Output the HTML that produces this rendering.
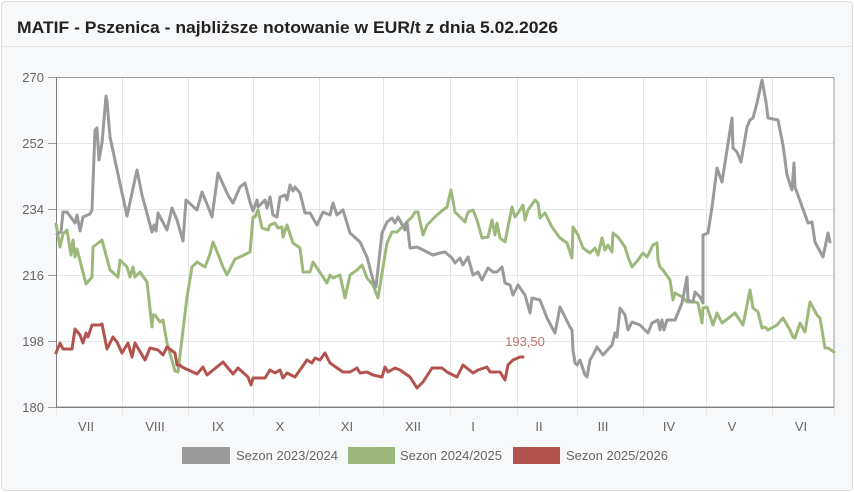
<!DOCTYPE html>
<html>
<head>
<meta charset="utf-8">
<style>
  html,body{margin:0;padding:0;background:#fff;}
  body{width:854px;height:492px;overflow:hidden;font-family:"Liberation Sans",sans-serif;}
  svg{display:block;}
</style>
</head>
<body>
<svg width="854" height="492" viewBox="0 0 854 492" xmlns="http://www.w3.org/2000/svg" font-family="Liberation Sans, sans-serif">
  <!-- card -->
  <rect x="1.5" y="1.5" width="851" height="489" rx="4" ry="4" fill="#f7f8fa" stroke="#dcdcdc" stroke-width="1"/>
  <path d="M2,46.5 H852" stroke="#e2e2e2" stroke-width="1"/>
  <text x="17" y="33" font-size="17" font-weight="bold" fill="#222" textLength="541" lengthAdjust="spacingAndGlyphs">MATIF - Pszenica - najbliższe notowanie w EUR/t z dnia 5.02.2026</text>

  <!-- plot area -->
  <rect x="56" y="77" width="778" height="330" fill="#ffffff"/>
  <g stroke="#e6e6e6" stroke-width="1">
    <path d="M56,143.5 H834 M56,209.5 H834 M56,275.5 H834 M56,341.5 H834"/>
    <path d="M56.5,77 V415 M122.5,77 V415 M188.5,77 V415 M253.5,77 V415 M319.5,77 V415 M383.5,77 V415 M450.5,77 V415 M517.5,77 V415 M577.5,77 V415 M643.5,77 V415 M706.5,77 V415 M772.5,77 V415 M834.5,407 V415"/>
  </g>
  <g stroke="#9a9a9a" stroke-width="1">
    <path d="M48,77.5 H56 M48,143.5 H56 M48,209.5 H56 M48,275.5 H56 M48,341.5 H56 M48,407.5 H56"/>
  </g>
  <rect x="56.5" y="77.5" width="777.5" height="329.5" fill="none" stroke="#9a9a9a" stroke-width="1"/>
  <path d="M56.5,77 V407.5 H834" fill="none" stroke="#7d7d7d" stroke-width="1"/>

  <!-- y labels -->
  <g font-size="13" fill="#666" text-anchor="end">
    <text x="44" y="82">270</text>
    <text x="44" y="148">252</text>
    <text x="44" y="214">234</text>
    <text x="44" y="280">216</text>
    <text x="44" y="346">198</text>
    <text x="44" y="412">180</text>
  </g>
  <!-- x labels -->
  <g font-size="13" fill="#666" text-anchor="middle">
    <text x="86" y="431">VII</text>
    <text x="155" y="431">VIII</text>
    <text x="218" y="431">IX</text>
    <text x="280" y="431">X</text>
    <text x="347" y="431">XI</text>
    <text x="413" y="431">XII</text>
    <text x="473" y="431">I</text>
    <text x="539" y="431">II</text>
    <text x="603" y="431">III</text>
    <text x="669" y="431">IV</text>
    <text x="732" y="431">V</text>
    <text x="801" y="431">VI</text>
  </g>

  <g fill="none" stroke-width="3" stroke-linejoin="round" stroke-linecap="round">
    <!-- green 2024/2025 -->
    <polyline stroke="#9cb97b" points="56,224 60,247 63,234 67,230 71,255 73,240 75,257 77,249 86,284 92,277 93,247 102,240 110,270 118,277 120,260 127,267 130,277 133,267 135,277 140,272 147,282 152,327 153,315 155,315 160,322 163,320 167,343 175,371 178,372 187,297 192,267 197,262 205,267 210,254 213,242 218,254 223,267 227,275 235,259 240,257 250,252 253,217 255,217 258,210 262,228 268,230 270,225 275,223 278,228 282,227 283,237 287,225 293,243 300,248 303,272 310,272 313,262 327,283 330,275 333,278 340,275 345,298 350,275 357,270 362,265 367,278 373,285 378,298 383,267 387,243 392,232 397,232 402,227 407,222 412,217 415,212 418,212 423,235 427,225 430,222 437,215 443,210 447,207 451,190 455,212 465,222 468,212 473,210 477,220 482,238 488,237 492,220 495,235 497,223 500,238 505,242 512,207 515,217 520,210 523,205 525,220 528,210 535,200 538,203 540,218 545,213 552,227 560,238 567,243 572,258 573,227 578,235 583,248 590,253 595,248 598,255 602,238 605,250 608,245 612,252 613,233 618,237 625,247 628,257 632,267 638,260 643,253 647,257 653,245 657,243 658,260 660,267 663,270 670,280 673,300 675,293 682,297 687,302 695,302 698,303 702,323 703,308 707,307 713,325 717,313 722,323 730,317 735,313 743,325 750,290 753,308 758,312 762,328 765,327 768,330 777,325 783,318 790,330 793,337 795,338 800,323 805,332 810,302 817,315 820,318 825,348 828,348 834,352"/>
    <!-- red 2025/2026 -->
    <polyline stroke="#b3534f" points="56,353 60,343 63,349 72,349 75,329 80,335 83,343 86,333 88,337 92,325 100,325 102,324 107,349 113,337 117,342 122,353 128,343 132,357 135,343 145,360 150,348 158,350 163,355 167,347 175,353 177,365 180,365 182,367 197,374 203,367 207,375 223,362 233,374 238,368 248,377 251,385 253,378 265,378 270,370 275,373 280,370 283,378 287,373 295,377 300,370 307,360 312,363 315,358 320,360 325,353 330,363 340,370 343,372 350,372 357,368 360,373 367,372 373,375 382,377 385,367 388,372 395,368 400,370 410,377 417,388 423,382 432,368 442,368 447,372 457,377 463,365 473,373 478,370 487,367 490,372 500,372 505,380 508,365 513,360 520,357 523,357"/>
    <!-- gray 2023/2024 -->
    <polyline stroke="#9a9a9a" points="57,234 61,232 63,212 67,212 75,223 77,215 80,231 83,217 90,214 92,210 95,130 97,128 99,160 102,143 106,96 107,101 110,137 127,216 137,170 142,195 152,232 154,225 156,231 158,213 167,230 172,208 177,220 183,241 186,200 197,210 202,192 207,204 212,217 218,173 227,193 229,197 233,203 240,187 245,183 250,202 253,211 257,200 258,207 265,200 267,208 270,197 273,215 277,217 280,197 285,195 287,200 290,185 293,191 295,187 300,193 305,213 310,213 317,225 323,212 330,215 333,203 337,215 343,210 350,233 360,242 367,257 373,280 376,287 382,233 387,222 392,218 395,223 398,217 405,230 407,222 410,248 417,247 423,250 433,255 440,253 445,252 452,258 455,263 460,258 463,265 468,257 473,275 478,272 482,280 488,268 493,272 497,272 502,267 505,283 510,285 513,295 518,285 525,295 530,313 532,298 540,300 547,318 555,333 560,307 570,327 572,330 573,350 575,363 577,365 580,360 585,375 587,377 590,360 593,355 597,347 603,355 612,345 615,333 617,337 620,308 625,315 628,330 632,322 640,325 648,333 652,323 658,320 660,330 662,320 664,330 667,320 675,320 682,303 687,277 688,300 693,302 695,292 700,297 703,303 703,260 703,235 708,233 712,207 717,168 722,182 732,118 733,148 737,152 741,162 747,127 750,120 753,118 757,103 762,80 766,102 768,118 778,120 783,145 787,175 792,190 794,163 795,187 808,223 812,222 815,242 823,257 828,233 830,242"/>
  </g>

  <text x="525" y="346" font-size="13" fill="#c0716c" text-anchor="middle">193,50</text>

  <!-- legend -->
  <rect x="182" y="447" width="48" height="17" fill="#9a9a9a"/>
  <text x="236" y="460" font-size="13" fill="#666">Sezon 2023/2024</text>
  <rect x="348" y="447" width="47" height="17" fill="#9cb97b"/>
  <text x="400" y="460" font-size="13" fill="#666">Sezon 2024/2025</text>
  <rect x="513" y="447" width="47" height="17" fill="#b3534f"/>
  <text x="566" y="460" font-size="13" fill="#666">Sezon 2025/2026</text>
</svg>
</body>
</html>
